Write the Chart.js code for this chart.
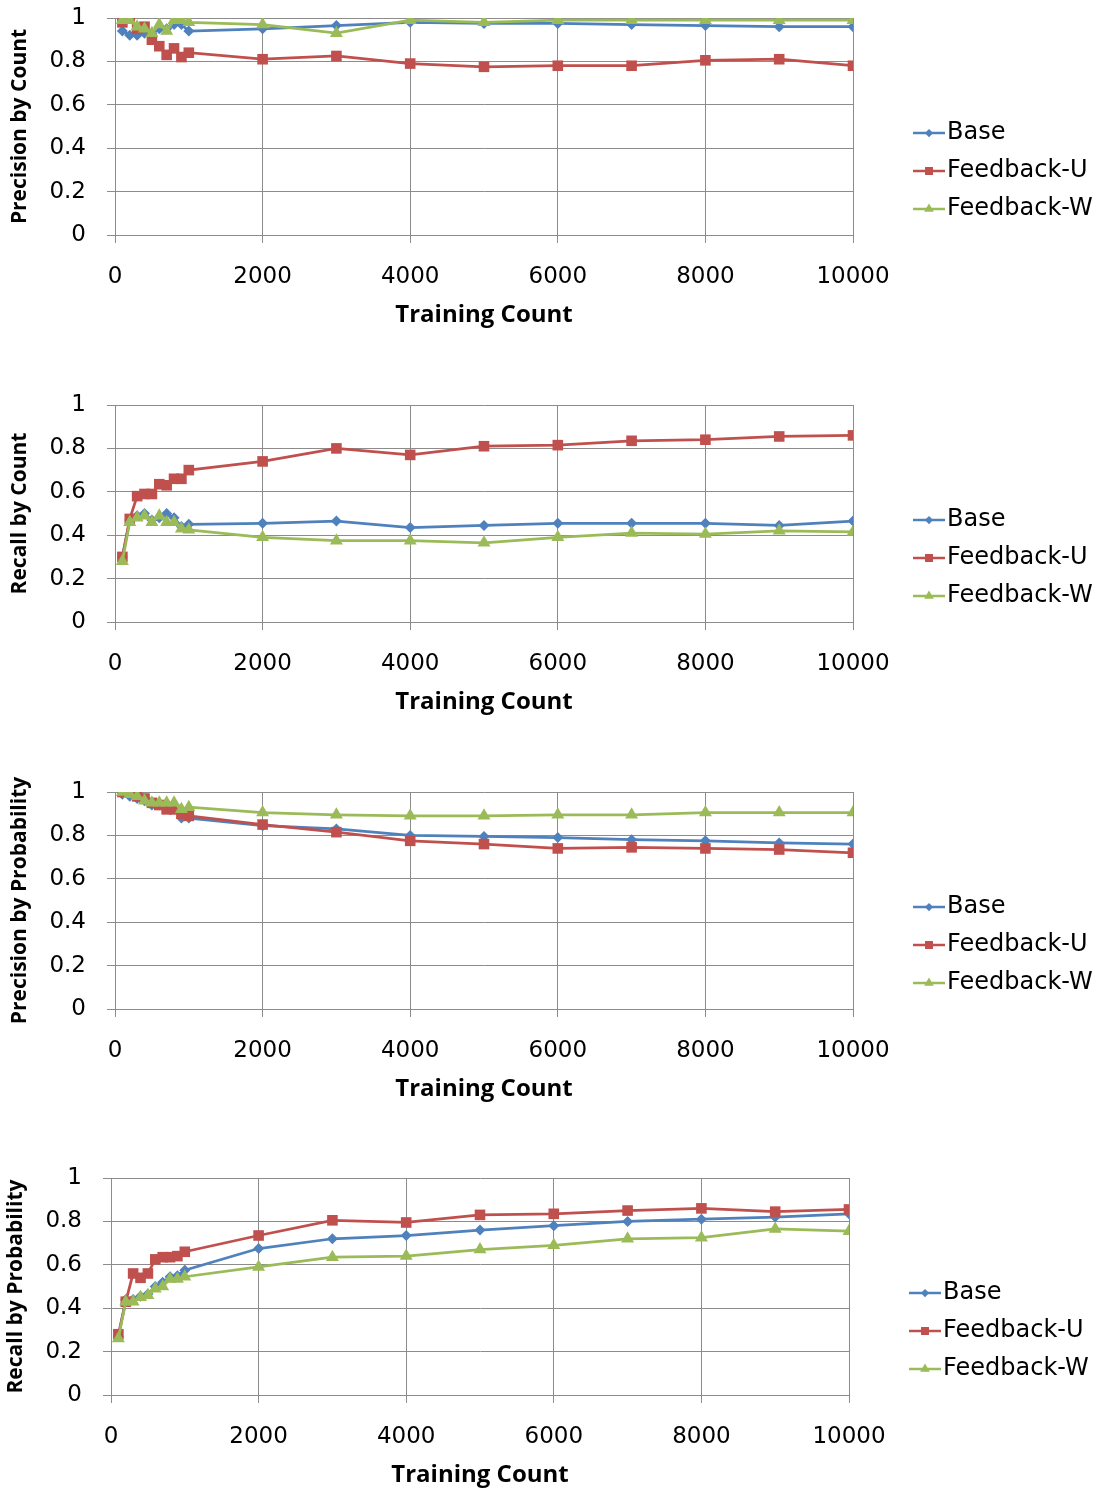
<!DOCTYPE html>
<html>
<head>
<meta charset="utf-8">
<title>Training Count curves</title>
<script src="https://cdn.jsdelivr.net/npm/chart.js@4.4.1/dist/chart.umd.min.js"></script>
<style>
  body { margin: 0; background: #fff; }
  #wrap { position: relative; width: 1105px; height: 1490px; overflow: hidden; }
  .panel { position: absolute; }
</style>
</head>
<body>
<div id="wrap">
  <canvas id="precCount" class="panel" width="1105" height="387" style="left:0;top:0"></canvas>
  <canvas id="recallCount" class="panel" width="1105" height="387" style="left:0;top:387px"></canvas>
  <canvas id="precProb" class="panel" width="1105" height="387" style="left:0;top:774px"></canvas>
  <canvas id="recallProb" class="panel" width="1105" height="387" style="left:-4px;top:1160px"></canvas>
</div>
<script>
// x positions of every measurement
const trainingCounts = [100, 200, 300, 400, 500, 600, 700, 800, 900, 1000,
                        2000, 3000, 4000, 5000, 6000, 7000, 8000, 9000, 10000];
const xTickValues = [0, 2000, 4000, 6000, 8000, 10000];
const yTickValues = [0, 0.2, 0.4, 0.6, 0.8, 1];
const seriesNames = ['Base', 'Feedback-U', 'Feedback-W'];

// Precision by Count
const precCountBase = [0.94, 0.92, 0.92, 0.93, 0.93, 0.95, 0.95, 0.97, 0.97, 0.94,
                       0.95, 0.965, 0.98, 0.975, 0.975, 0.97, 0.965, 0.96, 0.96];
const precCountFbU  = [0.98, 1.0, 0.95, 0.96, 0.90, 0.87, 0.83, 0.86, 0.82, 0.84,
                       0.81, 0.825, 0.79, 0.775, 0.78, 0.78, 0.805, 0.81, 0.78];
const precCountFbW  = [0.99, 0.99, 0.96, 0.95, 0.93, 0.97, 0.94, 0.99, 0.99, 0.98,
                       0.97, 0.93, 0.99, 0.98, 0.99, 0.99, 0.99, 0.99, 0.99];

// Recall by Count
const recallCountBase = [0.30, 0.47, 0.49, 0.50, 0.47, 0.48, 0.50, 0.48, 0.44, 0.45,
                         0.455, 0.465, 0.435, 0.445, 0.455, 0.455, 0.455, 0.445, 0.465];
const recallCountFbU  = [0.30, 0.475, 0.58, 0.59, 0.59, 0.635, 0.63, 0.66, 0.66, 0.70,
                         0.74, 0.80, 0.77, 0.81, 0.815, 0.835, 0.84, 0.855, 0.86];
const recallCountFbW  = [0.28, 0.46, 0.48, 0.49, 0.46, 0.49, 0.46, 0.46, 0.43, 0.425,
                         0.39, 0.375, 0.375, 0.365, 0.39, 0.41, 0.405, 0.42, 0.415];

// Precision by Probability
const precProbBase = [0.99, 0.98, 0.97, 0.96, 0.94, 0.94, 0.93, 0.92, 0.88, 0.88,
                      0.845, 0.83, 0.80, 0.795, 0.79, 0.78, 0.775, 0.765, 0.76];
const precProbFbU  = [1.0, 1.0, 0.98, 0.97, 0.95, 0.94, 0.92, 0.92, 0.90, 0.89,
                      0.85, 0.815, 0.775, 0.76, 0.74, 0.745, 0.74, 0.735, 0.72];
const precProbFbW  = [1.0, 0.99, 0.98, 0.96, 0.95, 0.95, 0.95, 0.95, 0.92, 0.93,
                      0.905, 0.895, 0.89, 0.89, 0.895, 0.895, 0.905, 0.905, 0.905];

// Recall by Probability
const recallProbBase = [0.27, 0.44, 0.44, 0.455, 0.465, 0.50, 0.52, 0.545, 0.55, 0.575,
                        0.675, 0.72, 0.735, 0.76, 0.78, 0.80, 0.81, 0.82, 0.835];
const recallProbFbU  = [0.28, 0.43, 0.56, 0.54, 0.56, 0.625, 0.635, 0.635, 0.64, 0.66,
                        0.735, 0.805, 0.795, 0.83, 0.835, 0.85, 0.86, 0.845, 0.855];
const recallProbFbW  = [0.26, 0.43, 0.43, 0.45, 0.46, 0.49, 0.50, 0.535, 0.535, 0.545,
                        0.59, 0.635, 0.64, 0.67, 0.69, 0.72, 0.725, 0.765, 0.755];

(function(){
    const colors = ['#4F81BD', '#C0504D', '#9BBB59'];
    const markers = ['rectRot', 'rect', 'triangle'];
    const markerSizes = [5.5, 7.5, 7.5];
    const gridColor = '#8c8c8c';
    const tickFont = { family: '"DejaVu Sans"', size: 23 };

    // legend drawn to the right of the plot: short line with marker, then name
    const sideLegend = {
        id: 'sideLegend',
        afterDraw(chart) {
            const ctx = chart.ctx;
            const x0 = 913, y0 = 133, gap = 38;
            chart.data.datasets.forEach((ds, i) => {
                const y = y0 + i * gap;
                ctx.save();
                ctx.strokeStyle = ds.borderColor;
                ctx.lineWidth = 2.5;
                ctx.beginPath();
                ctx.moveTo(x0, y);
                ctx.lineTo(x0 + 32, y);
                ctx.stroke();
                ctx.fillStyle = ds.backgroundColor;
                Chart.helpers.drawPoint(ctx, {
                    pointStyle: ds.pointStyle, radius: ds.pointRadius * 0.75,
                    borderWidth: 0, rotation: 0
                }, x0 + 16, y);
                ctx.fillStyle = '#000';
                ctx.font = '24px "DejaVu Sans"';
                ctx.textBaseline = 'middle';
                ctx.textAlign = 'left';
                ctx.fillText(ds.label, x0 + 34, y);
                ctx.restore();
            });
        }
    };

    function renderPanel(id, yTitle, series) {
        const ctx = document.getElementById(id);
        const datasets = series.map((vals, i) => ({
            label: seriesNames[i],
            data: trainingCounts.map((x, j) => ({ x: x, y: vals[j] })),
            borderColor: colors[i],
            backgroundColor: colors[i],
            borderWidth: 2.75,
            pointStyle: markers[i],
            pointRadius: markerSizes[i],
            pointBorderWidth: 0,
            tension: 0,
            order: 2 - i
        }));

        return new Chart(ctx, {
            type: 'line',
            data: { datasets: datasets },
            options: {
                responsive: false,
                animation: false,
                layout: { padding: { top: 18, right: 252, left: 0, bottom: 0 } },
                scales: {
                    x: {
                        type: 'linear',
                        min: 0,
                        max: 10000,
                        afterBuildTicks: s => { s.ticks = xTickValues.map(v => ({ value: v })); },
                        afterFit: s => { s.height = 152; },
                        ticks: { callback: v => String(v), font: tickFont, color: '#000',
                                 padding: 20, maxRotation: 0, autoSkip: false },
                        grid: { color: gridColor, tickLength: 8 },
                        border: { color: gridColor },
                        title: { display: true, text: 'Training Count',
                                 font: { family: '"Open Sans"', size: 24, weight: 'bold' },
                                 color: '#000', padding: { top: 0, bottom: 57 } }
                    },
                    y: {
                        min: 0,
                        max: 1,
                        afterBuildTicks: s => { s.ticks = yTickValues.map(v => ({ value: v })); },
                        // fixed axis width; no extra room above/below for label overhang
                        afterFit: s => { s.width = 115; s.paddingTop = 0; s.paddingBottom = 0; },
                        ticks: { callback: v => String(v), font: tickFont, color: '#000', padding: 21 },
                        grid: { color: gridColor, tickLength: 8 },
                        border: { color: gridColor },
                        title: { display: true, text: yTitle,
                                 font: { family: '"Open Sans"', size: 21, weight: 'bold' },
                                 color: '#000', padding: { top: 7, bottom: 0 } }
                    }
                },
                plugins: {
                    legend: { display: false },
                    tooltip: { enabled: false }
                }
            },
            plugins: [sideLegend]
        });
    }

    renderPanel('precCount', 'Precision by Count', [precCountBase, precCountFbU, precCountFbW]);
    renderPanel('recallCount', 'Recall by Count', [recallCountBase, recallCountFbU, recallCountFbW]);
    renderPanel('precProb', 'Precision by Probability', [precProbBase, precProbFbU, precProbFbW]);
    renderPanel('recallProb', 'Recall by Probability', [recallProbBase, recallProbFbU, recallProbFbW]);
})();
</script>
</body>
</html>
